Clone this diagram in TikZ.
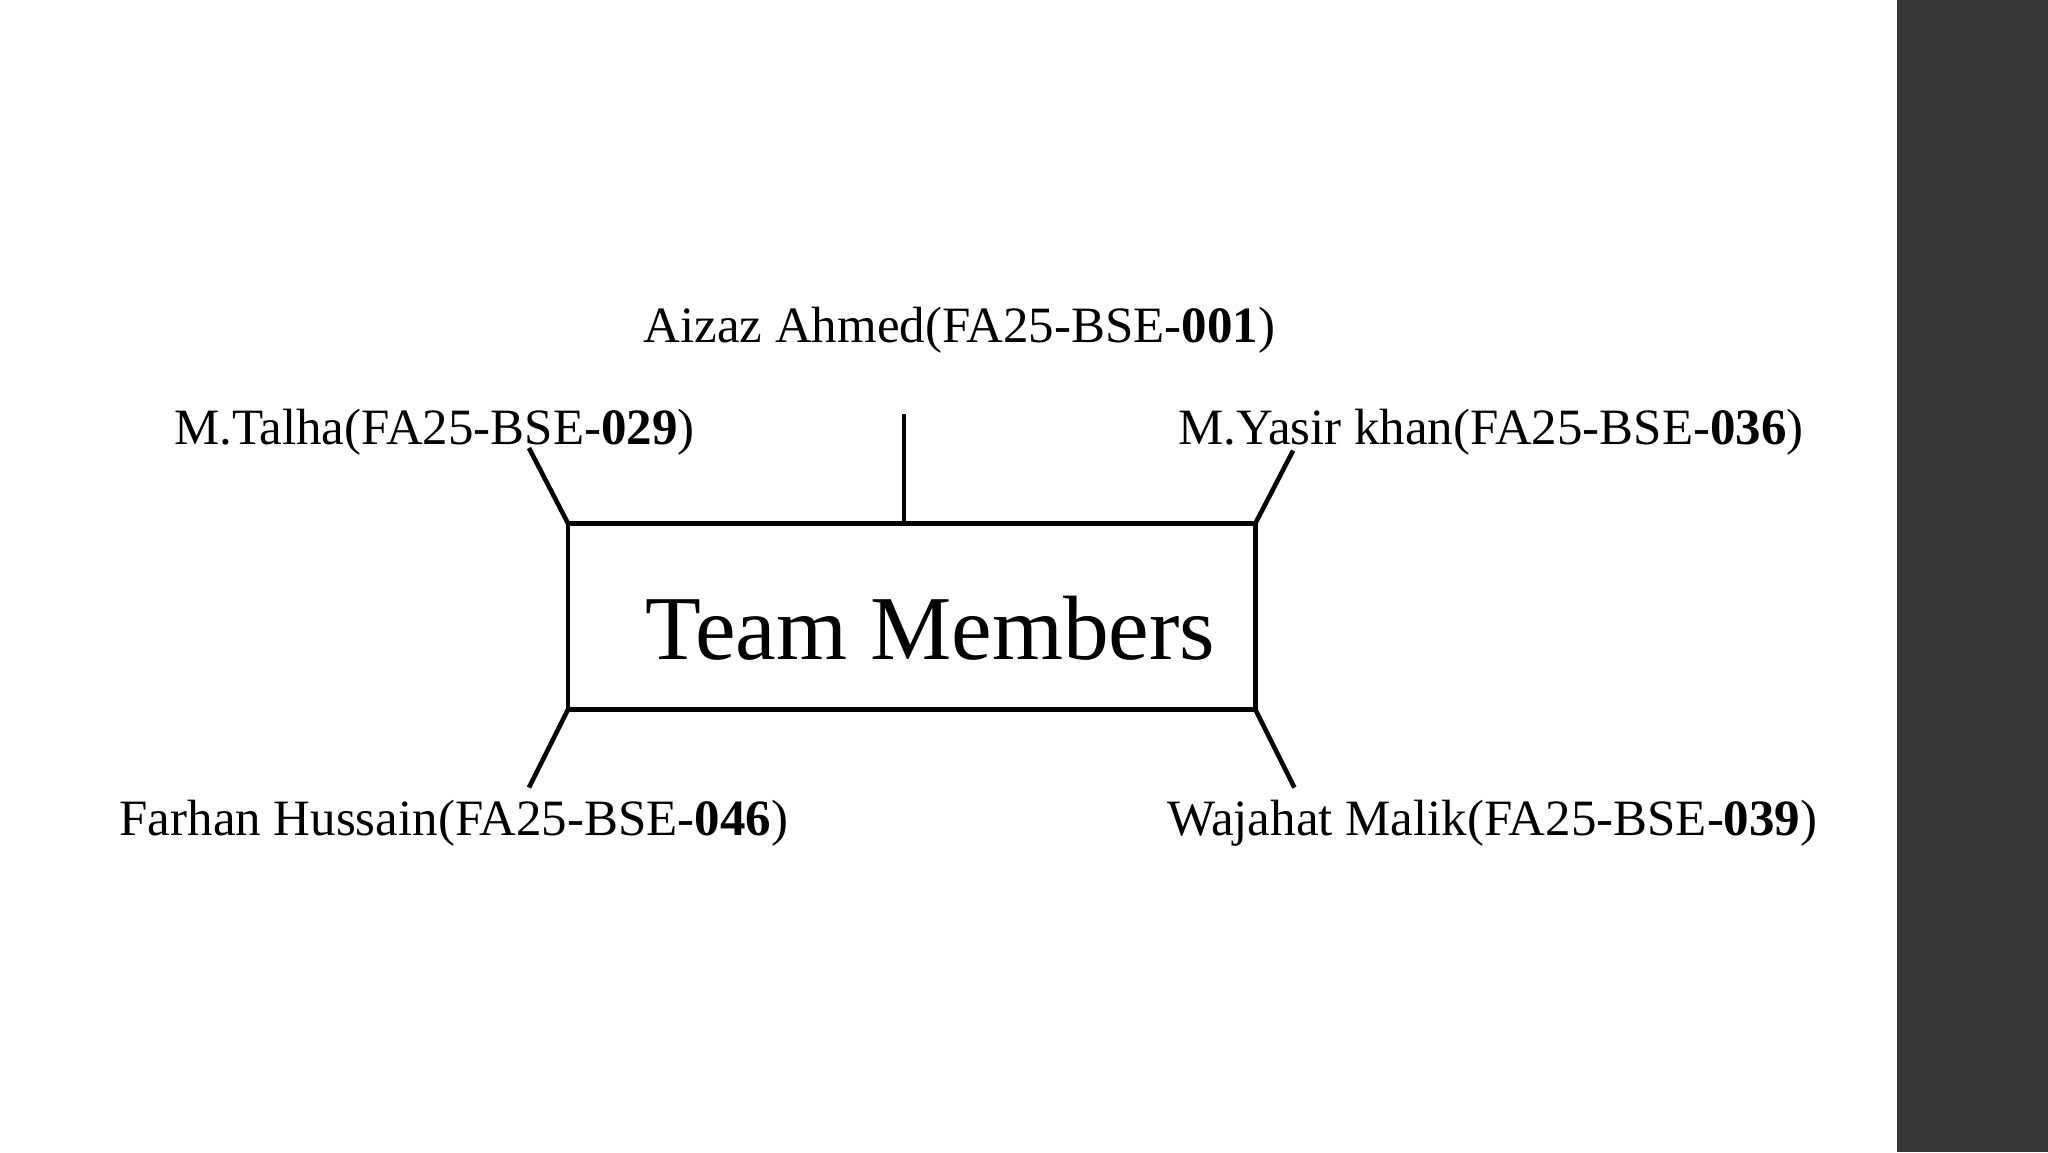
\documentclass[tikz,border=0pt]{standalone}
\usepackage{fontspec}
\setmainfont{Liberation Serif}
\usepackage{tikz}
\usetikzlibrary{calc,positioning}
\definecolor{sidebar}{RGB}{54,54,56}

\begin{document}
\begin{tikzpicture}[
  member/.style={anchor=base,inner sep=0pt,font=\fontsize{11.1pt}{13pt}\selectfont},
  teambox/.style={draw,line width=1pt,minimum width=5.26cm,minimum height=1.42cm,inner sep=0pt,outer sep=0pt},
  link/.style={line width=1pt}]
\useasboundingbox (0,0) rectangle (15.68,8.82);
\fill[sidebar] (14.52,0) rectangle (15.68,8.82);
\node[teambox] (team) at (6.98,4.10) {};
\node[anchor=base,inner sep=0pt,font=\fontsize{19.9pt}{22pt}\selectfont] (title) at (7.125,3.77) {Team Members};
\node[member] (aizaz) at (7.345,6.20) {Aizaz Ahmed(FA25-BSE-\textbf{001})};
\node[member] (talha) at (3.325,5.42) {M.Talha(FA25-BSE-\textbf{029})};
\node[member] (yasir) at (11.415,5.42) {M.Yasir khan(FA25-BSE-\textbf{036})};
\node[member] (farhan) at (3.475,2.42) {Farhan Hussain(FA25-BSE-\textbf{046})};
\node[member] (wajahat) at (11.425,2.42) {Wajahat Malik(FA25-BSE-\textbf{039})};
\coordinate (aizaz-end) at (6.92,5.65);
\coordinate (talha-end) at (4.05,5.39);
\coordinate (yasir-end) at (9.90,5.37);
\coordinate (farhan-end) at (4.05,2.79);
\coordinate (wajahat-end) at (9.91,2.79);
\draw[link] (aizaz-end) -- (aizaz-end |- team.north);
\draw[link] (talha-end) -- (team.north west);
\draw[link] (yasir-end) -- (team.north east);
\draw[link] (team.south west) -- (farhan-end);
\draw[link] (team.south east) -- (wajahat-end);
\end{tikzpicture}
\end{document}
